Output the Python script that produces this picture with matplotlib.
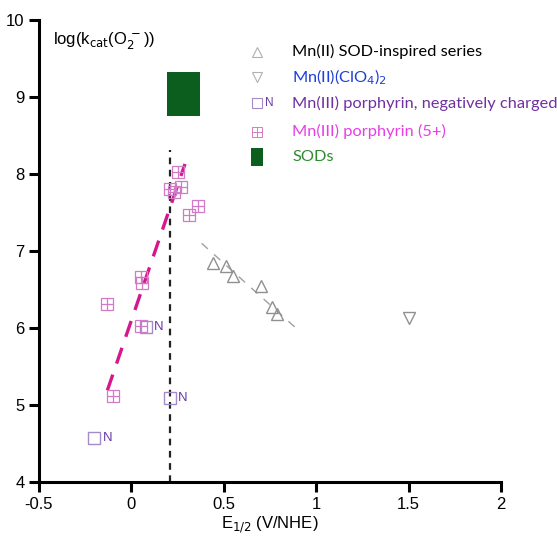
import matplotlib
matplotlib.use("Agg")
import matplotlib.pyplot as plt
import matplotlib.patches as patches

plt.rcParams['font.family'] = ['Liberation Sans', 'DejaVu Sans']

# Mn(II) SOD-inspired series
sod_x = [0.44, 0.51, 0.55, 0.70, 0.76, 0.79]
sod_y = [6.84, 6.81, 6.68, 6.55, 6.27, 6.18]
sod_fit_x = [0.38, 0.89]
sod_fit_y = [7.10, 6.00]

# Mn(II)(ClO4)2
clo4_x = [1.50]
clo4_y = [6.13]

# Mn(III) porphyrin, negatively charged
neg_x = [0.08, 0.21, -0.20]
neg_y = [6.01, 5.09, 4.57]

# Mn(III) porphyrin (5+)
pos_x = [0.25, 0.21, 0.23, 0.27, 0.31, 0.36, 0.05, 0.06, -0.13, 0.05, -0.10]
pos_y = [8.03, 7.80, 7.76, 7.83, 7.47, 7.58, 6.66, 6.58, 6.31, 6.03, 5.12]
pos_fit_x = [-0.13, 0.29]
pos_fit_y = [5.19, 8.13]

# SODs box
sods_x = [0.19, 0.37]
sods_y = [8.75, 9.32]

vline_x = 0.21
vline_top = 8.31

legend_labels = ["Mn(II) SOD-inspired series", "Mn(II)(ClO$_4$)$_2$",
                 "Mn(III) porphyrin, negatively charged", "Mn(III) porphyrin (5+)", "SODs"]
legend_colors = ["black", "#1f3fd6", "#7030a0", "#e83ee6", "#2e8b2e"]

fig = plt.figure(figsize=(5.57, 5.36), dpi=100)
ax = fig.add_axes([0.070, 0.1007, 0.8295, 0.862])

tri_c = "#909090"
neg_c = "#a58ac8"
pos_c = "#d27ac6"

# fits and reference line
ax.plot(sod_fit_x, sod_fit_y, color="#a0a0a0", lw=1, ls=(0, (6, 6)))
ax.plot([vline_x, vline_x], [4, vline_top], color="#222222", lw=1.6, ls=(0, (3, 2.5)))
ax.plot(pos_fit_x, pos_fit_y, color="#d6168c", lw=2.4, ls=(0, (5, 3.5)))

ax.plot(sod_x, sod_y, ls="none", marker="^", ms=8, mfc="none", mec=tri_c, mew=1)
ax.plot(clo4_x, clo4_y, ls="none", marker="v", ms=8, mfc="none", mec=tri_c, mew=1)
ax.plot(neg_x, neg_y, ls="none", marker="s", ms=8.5, mfc="none", mec=neg_c, mew=1)
for x, y in zip(neg_x, neg_y):
    ax.text(x + 0.07, y, "N", color="#6a3aa8", fontsize=9.5, va="center", ha="center")
ax.plot(pos_x, pos_y, ls="none", marker="s", ms=8.5, mfc="none", mec=pos_c, mew=0.9)
ax.plot(pos_x, pos_y, ls="none", marker="+", ms=8.5, mec=pos_c, mew=0.9)

ax.add_patch(patches.Rectangle((sods_x[0], sods_y[0]), sods_x[1] - sods_x[0],
                               sods_y[1] - sods_y[0], color="#0b5e1e", lw=0))

# legend
rows = [0.931, 0.877, 0.820, 0.758, 0.703]
mx, tx = 0.472, 0.548
tr = ax.transAxes
ax.plot([mx], [rows[0]], transform=tr, marker="^", ms=7, mfc="none", mec="#b0b0b0", mew=0.8, clip_on=False)
ax.plot([mx], [rows[1]], transform=tr, marker="v", ms=7, mfc="none", mec="#b0b0b0", mew=0.8, clip_on=False)
ax.plot([mx], [rows[2]], transform=tr, marker="s", ms=7.5, mfc="none", mec=neg_c, mew=0.8, clip_on=False)
ax.text(mx + 0.027, rows[2], "N", transform=tr, color="#6a3aa8", fontsize=8.5, va="center", ha="center")
ax.plot([mx], [rows[3]], transform=tr, marker="s", ms=7, mfc="none", mec=pos_c, mew=0.7, clip_on=False)
ax.plot([mx], [rows[3]], transform=tr, marker="+", ms=7, mec=pos_c, mew=0.7, clip_on=False)
ax.add_patch(patches.Rectangle((mx - 0.013, rows[4] - 0.019), 0.026, 0.038,
                               transform=tr, color="#0b5e1e", lw=0))
for r, lab, c in zip(rows, legend_labels, legend_colors):
    ax.text(tx, r, lab, transform=tr, color=c, fontsize=11.8, va="center",
            family=["Lato", "DejaVu Sans"])

ax.text(0.03, 0.955, r"log(k$_{\rm cat}$(O$_2^{\,-}$))", transform=tr, fontsize=12,
        va="center", ha="left")

ax.set_xlim(-0.5, 2)
ax.set_ylim(4, 10)
ax.set_xticks([-0.5, 0, 0.5, 1, 1.5, 2])
ax.set_xticklabels(["-0.5", "0", "0.5", "1", "1.5", "2"])
ax.set_yticks([4, 5, 6, 7, 8, 9, 10])
for s in ["top", "right"]:
    ax.spines[s].set_visible(False)
for s in ["left", "bottom"]:
    ax.spines[s].set_linewidth(2.2)
ax.tick_params(width=2.2, length=7, labelsize=12)
ax.set_xlabel("E$_{1/2}$ (V/NHE)", fontsize=12, labelpad=2)

fig.savefig("out.png", dpi=100)
